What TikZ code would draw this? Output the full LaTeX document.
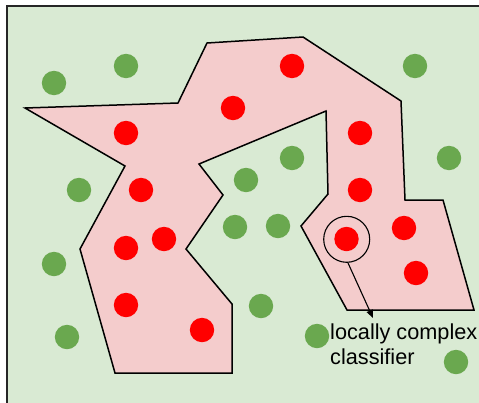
\documentclass[tikz,border=0pt]{standalone}
\usepackage{fontspec}
\setmainfont{Liberation Sans}
\usetikzlibrary{arrows.meta}
\definecolor{bggreen}{HTML}{D9EAD3}
\definecolor{regionpink}{HTML}{F4CCCC}
\definecolor{dotred}{HTML}{FF0000}
\definecolor{dotgreen}{HTML}{6AA84F}
\definecolor{frame}{HTML}{262626}
\tikzset{
  reddot/.style={circle,fill=dotred,inner sep=0pt,minimum size=24.4pt},
  greendot/.style={circle,fill=dotgreen,inner sep=0pt,minimum size=24.4pt},
  region/.style={fill=regionpink,draw=black,line width=1.5pt,line join=miter},
  lens/.style={circle,draw=black,line width=1.1pt,inner sep=0pt,minimum size=46pt},
  labeltext/.style={inner sep=0pt,anchor=base west,font=\fontsize{21.7}{25}\selectfont},
  pointer/.style={-{Triangle[length=8pt,width=6.5pt]},line width=1.1pt}
}
\begin{document}
\begin{tikzpicture}[x=1pt,y=-1pt]
\useasboundingbox (0,0) rectangle (479,402);
\clip (0,0) rectangle (479,402);
\fill[white] (0,0) rectangle (479,402);
\draw[fill=bggreen,draw=frame,line width=2pt] (7,5.7) rectangle (495,420);
\draw[region] (25,108) -- (178,103) -- (207,43) -- (303,37) -- (401,101)
  -- (405,200) -- (443,200) -- (474,310) -- (347,310) -- (301,226)
  -- (328,194) -- (326,111) -- (199,164) -- (223,195) -- (186,249)
  -- (232,304) -- (232,373) -- (115,373) -- (80,249) -- (125,166) -- cycle;
% red dots
\node[reddot] (r1) at (292,66) {};
\node[reddot] (r2) at (233,108) {};
\node[reddot] (r3) at (126,133) {};
\node[reddot] (r4) at (360,133) {};
\node[reddot] (r5) at (141,190) {};
\node[reddot] (r6) at (360,190) {};
\node[reddot] (r7) at (164,239) {};
\node[reddot] (r8) at (126,248) {};
\node[reddot] (r9) at (346.5,239) {};
\node[reddot] (r10) at (404,228) {};
\node[reddot] (r11) at (416,273) {};
\node[reddot] (r12) at (126,305) {};
\node[reddot] (r13) at (202,330) {};
% green dots
\node[greendot] (g1) at (126,66) {};
\node[greendot] (g2) at (54,83) {};
\node[greendot] (g3) at (415,66) {};
\node[greendot] (g4) at (292,158) {};
\node[greendot] (g5) at (449,158) {};
\node[greendot] (g6) at (79,190) {};
\node[greendot] (g7) at (246,180) {};
\node[greendot] (g8) at (235,227) {};
\node[greendot] (g9) at (278,226) {};
\node[greendot] (g10) at (54,264) {};
\node[greendot] (g11) at (261,306) {};
\node[greendot] (g12) at (67,337) {};
\node[greendot] (g13) at (317,336) {};
\node[greendot] (g14) at (456,362) {};
% classifier lens and label
\node[lens] (lens) at (346.7,239.3) {};
\node[labeltext] (lab1) at (330,339.3) {locally complex};
\node[labeltext] (lab2) at (330,364.3) {classifier};
\coordinate (tip) at (373,318);
\draw[pointer] (lens.-87) -- (tip);
\end{tikzpicture}
\end{document}
